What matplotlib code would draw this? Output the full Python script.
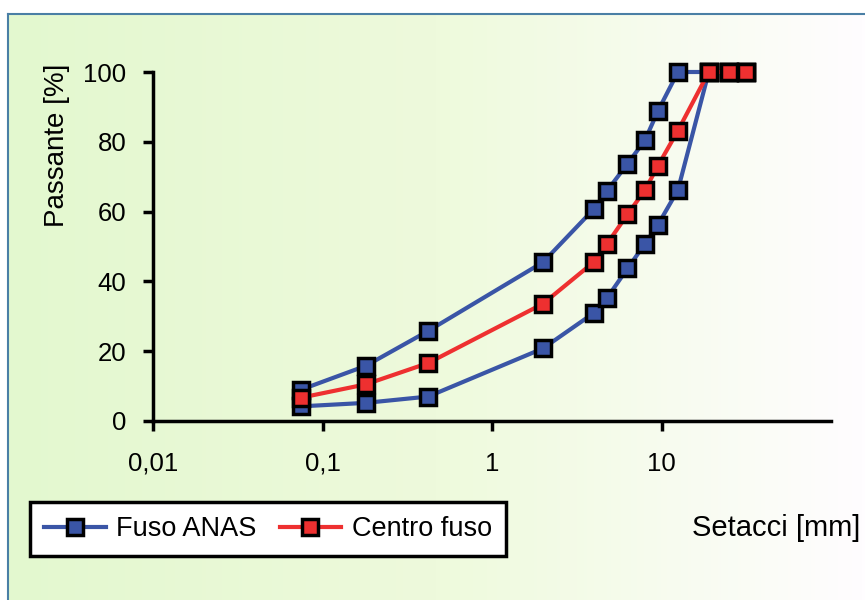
import numpy as np
import matplotlib.pyplot as plt
from matplotlib.colors import LinearSegmentedColormap

plt.rcParams["font.family"] = ["Liberation Sans", "DejaVu Sans"]

# sieve openings [mm]
setacci = [0.075, 0.18, 0.42, 2, 4, 4.76, 6.3, 8, 9.52, 12.5, 19, 25, 31.5]
fuso_sup = [9, 15.8, 25.8, 45.5, 60.8, 65.9, 73.7, 80.5, 88.8, 100, 100, 100, 100]
fuso_inf = [4.2, 5.2, 7.0, 20.8, 31.0, 35.2, 43.7, 50.8, 56.2, 66.2, 100, 100, 100]
centro = [6.7, 10.5, 16.6, 33.6, 45.6, 50.7, 59.2, 66.2, 73.1, 83.2, 100, 100, 100]

xticks = [0.01, 0.1, 1, 10]
xticklabels = ["0,01", "0,1", "1", "10"]
yticks = [0, 20, 40, 60, 80, 100]

BLUE = "#3A55A6"
RED = "#EE3030"

W, H = 865, 600
fig = plt.figure(figsize=(W / 100, H / 100), dpi=100, facecolor="white")

# ── background panel with green -> white gradient ──
bg = fig.add_axes([0, 0, 1, 1], zorder=-5)
bg.set_xlim(0, W)
bg.set_ylim(H, 0)
bg.axis("off")
cmap = LinearSegmentedColormap.from_list("bg", ["#E3F8CF", "#EEFADC", "#FFFDFF"])
grad = np.linspace(0, 1, 256).reshape(1, -1)
bg.imshow(grad, cmap=cmap, extent=[8, W, H, 14], aspect="auto")
bg.plot([8, W], [14, 14], color="#4A7FA5", lw=1.5)
bg.plot([8, 8], [14, H], color="#4A7FA5", lw=1.5)

# ── main chart ──
ax = fig.add_axes([153 / W, 1 - 421 / H, (831 - 153) / W, (421 - 72) / H])
ax.set_facecolor("none")

style = dict(marker="s", markersize=11, markeredgecolor="black",
             markeredgewidth=2.5, linewidth=3, clip_on=False)
ax.plot(setacci, fuso_inf, color=BLUE, markerfacecolor=BLUE, **style)
ax.plot(setacci, fuso_sup, color=BLUE, markerfacecolor=BLUE, label="Fuso ANAS", **style)
ax.plot(setacci, centro, color=RED, markerfacecolor=RED, label="Centro fuso", **style)

ax.set_xscale("log")
ax.set_xlim(0.01, 100)
ax.set_ylim(0, 100)
ax.set_xticks(xticks)
ax.set_xticklabels(xticklabels)
ax.xaxis.set_minor_locator(plt.NullLocator())
ax.set_yticks(yticks)

for s in ["top", "right"]:
    ax.spines[s].set_visible(False)
for s in ["left", "bottom"]:
    ax.spines[s].set_linewidth(2.5)
ax.tick_params(axis="both", direction="out", length=7, width=2.5, labelsize=18.5)
ax.tick_params(axis="x", pad=15)
ax.tick_params(axis="y", pad=12)

fig.text(57 / W, 1 - 145 / H, "Passante [%]", rotation=90, ha="center",
         va="center", fontsize=20)
fig.text(860 / W, 1 - 528 / H, "Setacci [mm]", ha="right", va="center", fontsize=21)

leg = ax.legend(loc="center left", bbox_to_anchor=(30 / W, 1 - 529 / H),
                bbox_transform=fig.transFigure, ncol=2, fontsize=18.5,
                frameon=True, fancybox=False, handlelength=2.4,
                columnspacing=0.9, handletextpad=0.4, borderpad=0.55,
                borderaxespad=0)
leg.get_frame().set_edgecolor("black")
leg.get_frame().set_linewidth(2.5)
leg.get_frame().set_facecolor("white")
leg.get_frame().set_alpha(1)
leg._legend_box.sep = 0
for t in leg.get_texts():
    t.set_fontsize(19.5)

fig.savefig("out.png", dpi=100)
